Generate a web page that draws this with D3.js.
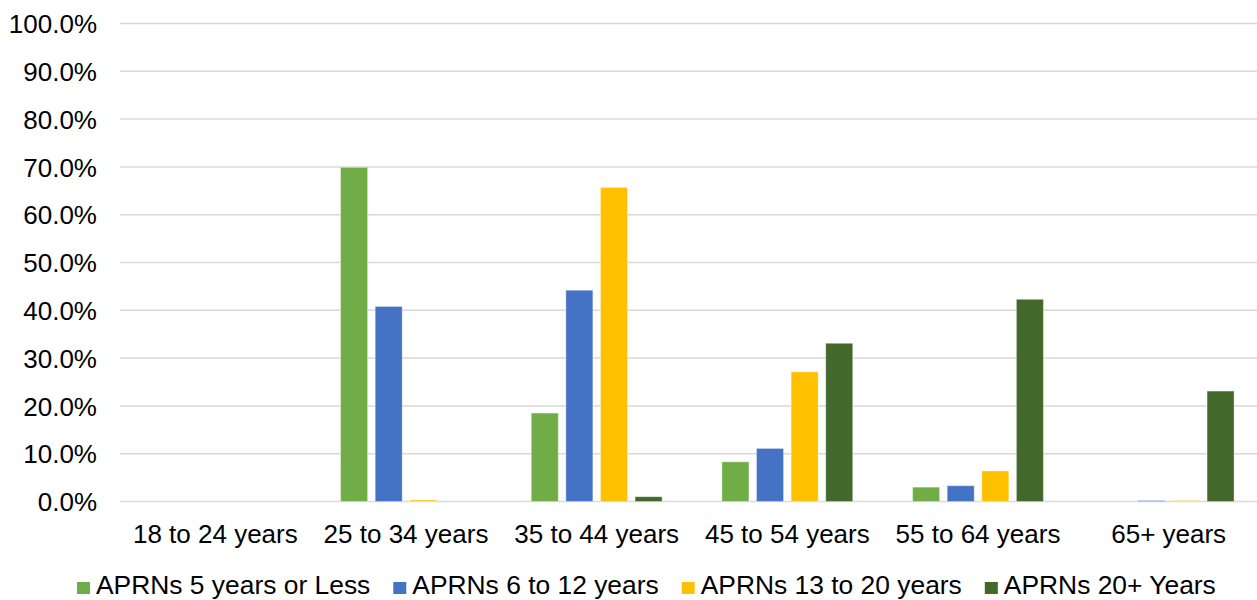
<!DOCTYPE html>
<html>
<head>
<meta charset="utf-8">
<script src="https://cdn.jsdelivr.net/npm/d3@7"></script>
<style>
  html, body { margin: 0; padding: 0; background: #fff; }
  svg { display: block; font-family: "Liberation Sans", Arial, sans-serif; }
</style>
</head>
<body>
<svg id="chart" width="1257" height="600"></svg>
<script>
const categories = ["18 to 24 years", "25 to 34 years", "35 to 44 years", "45 to 54 years", "55 to 64 years", "65+ years"];
const seriesNames = ["APRNs 5 years or Less", "APRNs 6 to 12 years", "APRNs 13 to 20 years", "APRNs 20+ Years"];
const seriesColors = ["#70AD47", "#4472C4", "#FFC000", "#43682B"];
const fiveOrLess = [0.0, 69.9, 18.5, 8.3, 3.0, 0.0];
const sixTo12 = [0.0, 40.8, 44.2, 11.1, 3.3, 0.2];
const thirteenTo20 = [0.0, 0.3, 65.7, 27.1, 6.4, 0.2];
const twentyPlus = [0.0, 0.0, 1.0, 33.1, 42.3, 23.1];
const yTicks = [0, 10, 20, 30, 40, 50, 60, 70, 80, 90, 100];

const seriesValues = [fiveOrLess, sixTo12, thirteenTo20, twentyPlus];

const svg = d3.select("#chart");
const plotLeft = 120, plotRight = 1264, plotTop = 23.5, plotBottom = 501.5;

const x = d3.scaleBand().domain(categories).range([plotLeft, plotRight]).paddingInner(0).paddingOuter(0);
const x1 = d3.scaleBand().domain(seriesNames).range([0, x.bandwidth()]).paddingOuter(0.865).paddingInner(0.22);
const y = d3.scaleLinear().domain([0, 100]).range([plotBottom, plotTop]);

// gridlines
svg.append("g")
  .selectAll("line")
  .data(yTicks)
  .join("line")
  .attr("x1", plotLeft).attr("x2", plotRight)
  .attr("y1", d => y(d)).attr("y2", d => y(d))
  .attr("stroke", "#d9d9d9").attr("stroke-width", 1.5);

// y axis labels
const yAxis = d3.axisLeft(y).tickValues(yTicks).tickSize(0).tickPadding(0)
  .tickFormat(d => d.toFixed(1) + "%");
const yg = svg.append("g").attr("transform", `translate(97,0)`).call(yAxis);
yg.select(".domain").remove();
yg.selectAll("text").attr("font-size", 26).attr("fill", "#000")
  .attr("font-family", "Liberation Sans, Arial, sans-serif").attr("dy", "0.35em");

// bars
const groups = svg.append("g").selectAll("g")
  .data(seriesNames)
  .join("g")
  .attr("fill", (d, i) => seriesColors[i]);

groups.selectAll("rect")
  .data((s, si) => categories.map((c, ci) => ({ s, c, v: seriesValues[si][ci] })))
  .join("rect")
  .attr("x", d => x(d.c) + x1(d.s))
  .attr("width", x1.bandwidth())
  .attr("y", d => y(d.v))
  .attr("height", d => plotBottom - y(d.v))
  .attr("stroke", "rgba(255,255,255,0.35)")
  .attr("stroke-width", 1);

// x axis labels
const xAxis = d3.axisBottom(x).tickSize(0).tickPadding(0);
const xg = svg.append("g").call(xAxis);
xg.select(".domain").remove();
xg.selectAll("text").attr("font-size", 26).attr("fill", "#000")
  .attr("font-family", "Liberation Sans, Arial, sans-serif")
  .attr("y", 543).attr("dy", 0);

// legend
const legend = svg.append("g").attr("transform", "translate(77,0)");
let lx = 0;
seriesNames.forEach((name, i) => {
  const g = legend.append("g").attr("transform", `translate(${lx},0)`);
  g.append("rect").attr("x", 0).attr("y", 582).attr("width", 13).attr("height", 12)
    .attr("fill", seriesColors[i]);
  const t = g.append("text").attr("x", 19).attr("y", 594).attr("font-size", 26.4)
    .attr("fill", "#000").text(name);
  const w = t.node().getComputedTextLength();
  lx += 19 + w + 23;
});
</script>
</body>
</html>
